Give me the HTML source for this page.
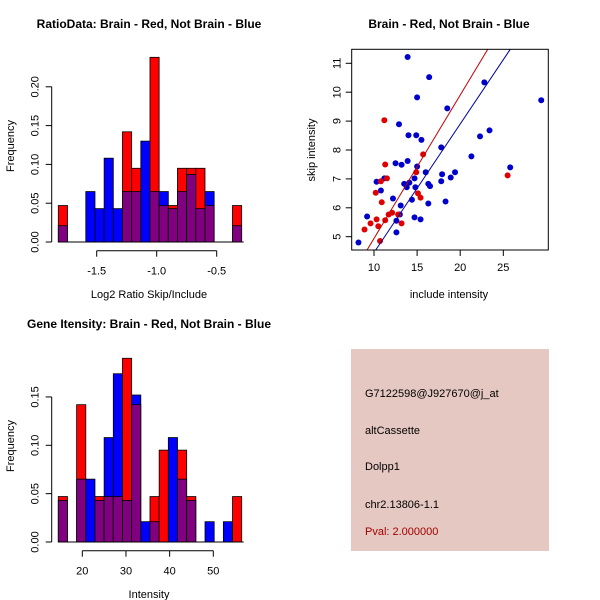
<!DOCTYPE html>
<html><head><meta charset="utf-8"><style>
body{margin:0;background:#fff}
svg{display:block;font-family:"Liberation Sans",sans-serif}
</style></head><body>
<svg id="svg" width="600" height="600" viewBox="0 0 600 600" xmlns="http://www.w3.org/2000/svg">
<rect width="600" height="600" fill="#fff"/>
<g id="h1"></g>
<g id="h2"></g>
<g id="sc"></g>
<g>
<rect x="351" y="349" width="198" height="202" fill="#e6c8c2"/>
<text x="365" y="397" font-size="11" fill="#000">G7122598@J927670@j_at</text>
<text x="365" y="434" font-size="11" fill="#000">altCassette</text>
<text x="365" y="470" font-size="11" fill="#000">Dolpp1</text>
<text x="365" y="508" font-size="11" fill="#000">chr2.13806-1.1</text>
<text x="365" y="535" font-size="11" fill="#a00000">Pval: 2.000000</text>
</g>
</svg>
<script>
const ratioRed=[0.047,0,0,0,0,0,0,0.142,0.095,0,0.238,0.047,0.047,0.095,0.095,0.095,0.047,0,0,0.047];
const ratioBlue=[0.021,0,0,0.065,0.043,0.108,0.043,0.065,0.065,0.13,0.065,0.065,0.043,0.065,0.087,0.043,0.065,0,0,0.021];
const ratioStart=-1.82, ratioWidth=0.0764;
const ratioXTicks=[-1.5,-1.0,-0.5];
const freqTicks1=[0,0.05,0.10,0.15,0.20];
const intRed=[0.047,0,0.142,0,0.047,0.047,0.047,0.19,0.142,0,0.047,0.095,0,0.095,0.047,0,0,0,0,0.047];
const intBlue=[0.043,0,0.065,0.065,0.043,0.108,0.174,0.043,0.152,0.021,0.021,0,0.108,0.065,0.043,0,0.021,0,0.021,0];
const intStart=14.5, intWidth=2.1;
const intXTicks=[20,30,40,50];
const freqTicks2=[0,0.05,0.10,0.15];
const blueX=[13.9,16.4,22.8,29.4,15.0,18.5,23.4,22.3,12.9,14.0,14.9,15.5,17.8,21.3,13.9,12.5,13.2,15.0,25.8,19.4,16.0,17.9,18.9,14.7,11.2,10.3,17.8,13.5,14.1,16.3,16.5,13.8,14.8,10.8,14.4,12.2,16.3,18.3,13.1,9.2,13.0,12.6,14.7,15.4,12.6,8.2];
const blueY=[11.22,10.52,10.34,9.72,9.82,9.44,8.68,8.47,8.89,8.51,8.51,8.35,8.09,7.78,7.62,7.54,7.49,7.43,7.40,7.23,7.23,7.16,7.05,7.02,7.02,6.90,6.92,6.83,6.87,6.83,6.75,6.71,6.71,6.60,6.28,6.32,6.15,6.22,6.08,5.70,5.77,5.55,5.67,5.60,5.15,4.80];
const redX=[11.2,11.3,11.5,10.8,10.2,10.9,14.9,15.7,15.1,15.4,25.5,11.7,12.1,12.8,10.3,11.3,9.6,10.5,13.2,8.9,10.7];
const redY=[9.03,7.50,7.02,6.92,6.52,6.19,7.23,7.85,6.50,6.35,7.12,5.77,5.83,5.77,5.60,5.57,5.46,5.36,5.46,5.25,4.85];
const redFit=[-0.02,0.496], blueFit=[0.0,0.445];
const scXTicks=[10,15,20,25], scYTicks=[5,6,7,8,9,10,11];

const NS="http://www.w3.org/2000/svg";
function mk(parent,tag,attrs,text){const e=document.createElementNS(NS,tag);for(const k in attrs)e.setAttribute(k,attrs[k]);if(text!==undefined)e.textContent=text;parent.appendChild(e);return e;}

function hist(g,red,blue,start,width,xs,ys,xTicks,yTicks,title,xlabel,ox,oy){
  const y0=ys(0);
  for(let i=0;i<red.length;i++){
    const r=red[i],b=blue[i];if(r===0&&b===0)continue;
    const xa=xs(start+i*width),xb=xs(start+(i+1)*width);
    const mx=Math.max(r,b),mn=Math.min(r,b);
    const top=mk(g,'rect',{x:xa,y:ys(mx),width:xb-xa,height:y0-ys(mx),fill:r>=b?'#ff0000':'#0000ff',stroke:'#000','stroke-width':0.8});
    
    
    if(mn>0){const p=mk(g,'rect',{x:xa,y:ys(mn),width:xb-xa,height:y0-ys(mn),fill:'#800080',stroke:'#000','stroke-width':0.8});
      
      }
  }
  const ax=ox+51.7;
  mk(g,'line',{x1:ax,x2:ax,y1:ys(yTicks[0]),y2:ys(yTicks[yTicks.length-1]),stroke:'#000'});
  yTicks.forEach(t=>{mk(g,'line',{x1:ax-6,x2:ax,y1:ys(t),y2:ys(t),stroke:'#000'});
    const tx=mk(g,'text',{x:ax-13,y:ys(t),'font-size':11,'text-anchor':'middle',transform:`rotate(-90 ${ax-13} ${ys(t)})`},t.toFixed(2));
    });
  mk(g,'line',{x1:xs(start),x2:xs(start+red.length*width)+2,y1:y0,y2:y0,stroke:'#000'});
  const ay=oy+250.7;
  mk(g,'line',{x1:xs(xTicks[0]),x2:xs(xTicks[xTicks.length-1]),y1:ay,y2:ay,stroke:'#000'});
  xTicks.forEach(t=>{mk(g,'line',{x1:xs(t),x2:xs(t),y1:ay,y2:ay+6,stroke:'#000'});
    const tx=mk(g,'text',{x:xs(t),y:ay+24,'font-size':11,'text-anchor':'middle'},t%1===0&&Math.abs(t)>=10?String(t):t.toFixed(1));
    });
  const ti=mk(g,'text',{x:ox+149,y:oy+28,'font-size':12,'font-weight':'bold','text-anchor':'middle'},title);
  
  const xl=mk(g,'text',{x:ox+149,y:oy+298,'font-size':11,'text-anchor':'middle'},xlabel);
  
  const yl=mk(g,'text',{x:ox+14,y:oy+146,'font-size':11,'text-anchor':'middle',transform:`rotate(-90 ${ox+14} ${oy+146})`},'Frequency');
  
}
const h1=document.getElementById('h1');
hist(h1,ratioRed,ratioBlue,ratioStart,ratioWidth,v=>96.7+(v+1.5)*120,v=>242-v*776,ratioXTicks,freqTicks1,'RatioData: Brain - Red, Not Brain - Blue','Log2 Ratio Skip/Include',0,0);
const h2=document.getElementById('h2');
hist(h2,intRed,intBlue,intStart,intWidth,v=>82.3+(v-20)*4.367,v=>542-v*967,intXTicks,freqTicks2,'Gene Itensity: Brain - Red, Not Brain - Blue','Intensity',0,300);

const sc=document.getElementById('sc');
const sx=v=>374+(v-10)*8.62, sy=v=>236.7-(v-5)*28.9;
const L=351.7,R=548.3,T=49.3,B=250;
mk(sc,'defs',{}).innerHTML='<clipPath id="cp"><rect x="351.7" y="49.3" width="196.6" height="200.7"/></clipPath>';
blueX.forEach((x,i)=>{const c=mk(sc,'circle',{cx:sx(x),cy:sy(blueY[i]),r:3,fill:'#0000cc'});
  });
redX.forEach((x,i)=>{const c=mk(sc,'circle',{cx:sx(x),cy:sy(redY[i]),r:3,fill:'#e00000'});
  });
[[redFit,'#c00000','fit-line-red'],[blueFit,'#0000a0','fit-line-blue']].forEach(([f,col,nm])=>{
  const l=mk(sc,'line',{x1:sx(5),y1:sy(f[0]+f[1]*5),x2:sx(35),y2:sy(f[0]+f[1]*35),stroke:col,'stroke-width':1,'clip-path':'url(#cp)'});
  });
mk(sc,'rect',{x:L,y:T,width:R-L,height:B-T,fill:'none',stroke:'#000'});
scXTicks.forEach(t=>{mk(sc,'line',{x1:sx(t),x2:sx(t),y1:B,y2:B+6,stroke:'#000'});
  const tx=mk(sc,'text',{x:sx(t),y:B+21,'font-size':11,'text-anchor':'middle'},String(t));
  });
scYTicks.forEach(t=>{mk(sc,'line',{x1:L-6,x2:L,y1:sy(t),y2:sy(t),stroke:'#000'});
  const tx=mk(sc,'text',{x:L-11,y:sy(t),'font-size':11,'text-anchor':'middle',transform:`rotate(-90 ${L-11} ${sy(t)})`},String(t));
  });
const st=mk(sc,'text',{x:449,y:28,'font-size':12,'font-weight':'bold','text-anchor':'middle'},'Brain - Red, Not Brain - Blue');

const sxl=mk(sc,'text',{x:449,y:298,'font-size':11,'text-anchor':'middle'},'include intensity');

const syl=mk(sc,'text',{x:315,y:150,'font-size':11,'text-anchor':'middle',transform:'rotate(-90 315 150)'},'skip intensity');

</script>
</body></html>
